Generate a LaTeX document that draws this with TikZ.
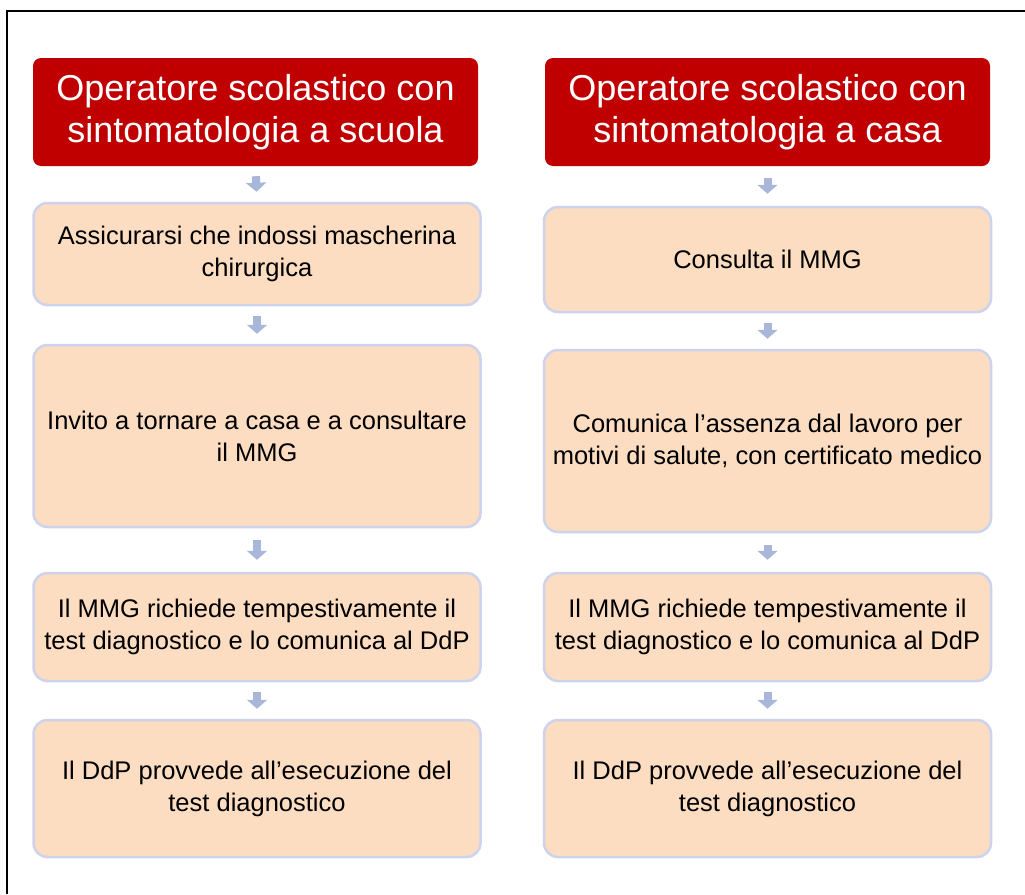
\documentclass[tikz,border=0pt]{standalone}
\usepackage{fontspec}
\setmainfont{Liberation Sans}
\usepackage{tikz}
\usetikzlibrary{arrows.meta}

\definecolor{headred}{HTML}{C00000}
\definecolor{peach}{HTML}{FCDDC1}
\definecolor{lilac}{HTML}{CDD3EC}
\definecolor{arrowblue}{HTML}{A8B6DA}

\tikzset{
  head/.style={fill=headred, rounded corners=8pt, text=white, align=center,
    minimum width=445pt, minimum height=108pt, inner sep=0pt,
    font=\fontsize{36}{42}\selectfont},
  stepbox/.style={fill=peach, draw=lilac, line width=2.5pt, rounded corners=14pt,
    align=center, minimum width=447pt, inner sep=0pt,
    font=\fontsize{25.5}{32}\selectfont},
  flowarrow/.style={draw=arrowblue, line width=8pt, -{Triangle[width=20pt,length=9pt]},
    shorten <=#1, shorten >=#1}
}

\begin{document}
\begin{tikzpicture}[x=1pt,y=-1pt]
\useasboundingbox (0,0) rectangle (1025,894);
\draw[line width=2.5pt] (7,894)--(7,11)--(1025,11);
% scuola
\node[head] (hs) at (255.5,112) {Operatore scolastico con\\sintomatologia a scuola};
\node[stepbox, minimum height=102pt] (s1) at (257,254) {Assicurarsi che indossi mascherina\\chirurgica};
\node[stepbox, minimum height=182pt] (s2) at (257,436) {Invito a tornare a casa e a consultare\\il MMG};
\node[stepbox, minimum height=108pt] (s3) at (257,627) {Il MMG richiede tempestivamente il\\test diagnostico e lo comunica al DdP};
\node[stepbox, minimum height=137pt] (s4) at (257,788.5) {Il DdP provvede all’esecuzione del\\test diagnostico};
% casa
\node[head] (hc) at (767.5,112) {Operatore scolastico con\\sintomatologia a casa};
\node[stepbox, minimum height=105pt] (c1) at (767.5,259.5) {Consulta il MMG};
\node[stepbox, minimum height=182pt] (c2) at (767.5,441) {Comunica l’assenza dal lavoro per\\motivi di salute, con certificato medico};
\node[stepbox, minimum height=108pt] (c3) at (767.5,627) {Il MMG richiede tempestivamente il\\test diagnostico e lo comunica al DdP};
\node[stepbox, minimum height=137pt] (c4) at (767.5,788.5) {Il DdP provvede all’esecuzione del\\test diagnostico};
%
\draw[flowarrow=10pt] (hs.south) -- (s1.north);
\draw[flowarrow=10pt] (s1.south) -- (s2.north);
\draw[flowarrow=12pt] (s2.south) -- (s3.north);
\draw[flowarrow=10pt] (s3.south) -- (s4.north);
\draw[flowarrow=12pt] (hc.south) -- (c1.north);
\draw[flowarrow=10pt] (c1.south) -- (c2.north);
\draw[flowarrow=12pt] (c2.south) -- (c3.north);
\draw[flowarrow=10pt] (c3.south) -- (c4.north);
\end{tikzpicture}
\end{document}
